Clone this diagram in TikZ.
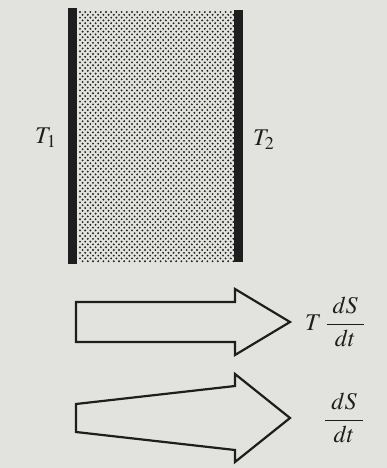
\documentclass[tikz,border=0pt]{standalone}
\usepackage{mathptmx}
\definecolor{paper}{RGB}{226,226,223}
\definecolor{ink}{RGB}{30,30,30}
\newcommand{\rate}[2]{\displaystyle\frac{\hspace{3pt}#1\hspace{3pt}}{\hspace{3pt}#2\hspace{3pt}}}
\tikzset{
  wall/.style={fill=ink},
  dot/.style={fill=ink},
  flow/.style={draw=ink, line width=1.1pt, line join=miter},
  lbl/.style={text=ink, font=\fontsize{12}{14}\selectfont}
}
\begin{document}
\begin{tikzpicture}[x=0.5pt,y=-0.5pt]

	% Page background
	\fill[paper] (0,0) rectangle (387,468);
	\useasboundingbox (0,0) rectangle (387,468);

	% Dotted slab, staggered rows
	\foreach \r in {0,...,89} {
		\pgfmathsetmacro{\yr}{12 + \r*2.8}
		\pgfmathsetmacro{\xo}{mod(\r,2)*2.6}
		\foreach \c in {0,...,29} {
			\fill[dot] (80+\xo+\c*5.2, \yr) circle (1.05);
		}
	}

	% Walls at T_1 and T_2
	\fill[wall] (68,8) rectangle (77,264);
	\fill[wall] (234,10) rectangle (243,262);

	\node[lbl] (t1) at (46,138) {$T_1$};
	\node[lbl] (t2) at (264,140) {$T_2$};

	% Heat flow, constant width
	\draw[flow] (76,302) -- (235,302) -- (235,289) -- (290,322)
		-- (235,355) -- (235,342) -- (76,342) -- cycle;
	\node[lbl, anchor=west] (heat) at (298,322) {$T\,\rate{dS}{dt}$};

	% Entropy flow, widening
	\draw[flow] (76,404) -- (235,386) -- (235,374) -- (290,418)
		-- (235,462) -- (235,450) -- (76,432) -- cycle;
	\node[lbl] (entropy) at (344,418) {$\rate{dS}{dt}$};

\end{tikzpicture}
\end{document}
